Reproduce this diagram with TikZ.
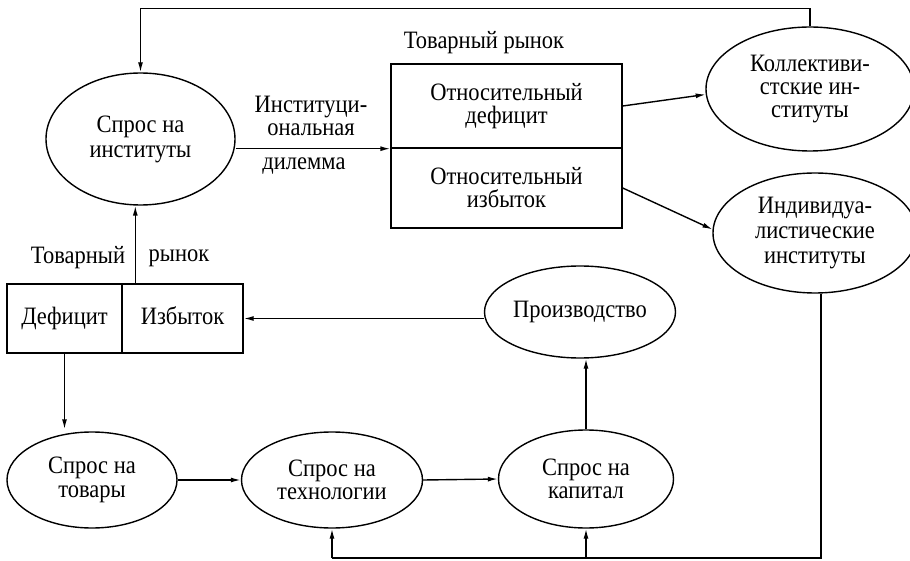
\documentclass[tikz,border=0pt]{standalone}
\usepackage{fontspec}
\setmainfont{Liberation Serif}[FakeStretch=0.9]
\usetikzlibrary{shapes.geometric,arrows.meta}
\tikzset{
  el/.style={draw, ellipse, line width=1.4pt, inner sep=0pt, align=center},
  bx/.style={draw, rectangle, line width=1.4pt, inner sep=0pt, align=center},
  lbl/.style={inner sep=0pt, align=center},
  arr/.style={line width=1.4pt, -{Latex[length=10pt,width=5pt]}},
  ln/.style={line width=1.4pt},
}
\begin{document}
\begin{tikzpicture}[x=1pt,y=-1pt,font=\fontsize{25}{25}\selectfont]
\useasboundingbox (0,0) rectangle (910,561);
% ellipses
\node[el, minimum width=189pt, minimum height=132pt] (inst) at (140.5,139) {Спрос на\\институты};
\node[el, minimum width=208pt, minimum height=124pt, font=\fontsize{25}{23}\selectfont] (coll) at (810,89) {Коллективи-\\стские ин-\\ституты};
\node[el, minimum width=204pt, minimum height=120pt] (indiv) at (815,233) {Индивидуа-\\листические\\институты};
\node[el, minimum width=191pt, minimum height=92pt] (prod) at (580,312) {Производство};
\node[el, minimum width=170pt, minimum height=96pt, font=\fontsize{25}{23.5}\selectfont] (goods) at (92,480) {Спрос на\\товары};
\node[el, minimum width=181pt, minimum height=96pt, font=\fontsize{25}{23.5}\selectfont] (tech) at (332,480) {Спрос на\\технологии};
\node[el, minimum width=175pt, minimum height=98pt, font=\fontsize{25}{23.5}\selectfont] (cap) at (586,479) {Спрос на\\капитал};
% market box (top)
\node[bx, minimum width=231pt, minimum height=84pt, font=\fontsize{25}{23}\selectfont] (rel1) at (506.5,106) {Относительный\\дефицит};
\node[bx, minimum width=231pt, minimum height=80pt, font=\fontsize{25}{23}\selectfont] (rel2) at (506.5,188) {Относительный\\избыток};
\node[lbl] (mk1) at (484,43) {Товарный рынок};
% market box (left)
\node[bx, minimum width=115pt, minimum height=69pt, text height=17pt, text depth=5pt] (def) at (64.5,318.5) {Дефицит};
\node[bx, minimum width=121pt, minimum height=69pt, text height=17pt, text depth=5pt] (izb) at (182.5,318.5) {Избыток};
\node[lbl] (mk2a) at (78,258) {Товарный};
\node[lbl] (mk2b) at (179,258) {рынок};
% dilemma labels
\node[lbl, font=\fontsize{25}{23}\selectfont] (dil1) at (311,116) {Институци-\\ональная};
\node[lbl] (dil2) at (304,166) {дилемма};
% helper coordinates
\coordinate (top) at (0,8.5);
\coordinate (bot) at (0,558);
% connectors
\draw[arr] (coll.north) -- (coll.north |- top) -| (inst.north);
\draw[arr] (inst.east |- rel1.south west) -- (rel1.south west);
\draw[arr] (rel1.east) -- (coll.183);
\draw[arr] (rel2.east) -- (indiv.178);
\draw[ln] ([xshift=6pt]indiv.south) -- ([xshift=6pt]indiv.south |- bot) -- (tech.south |- bot);
\draw[arr] (tech.south |- bot) -- (tech.south);
\draw[arr] (cap.south |- bot) -- (cap.south);
\draw[arr] (cap.north) -- (cap.north |- prod.south);
\draw[arr] (izb.east -| prod.west) -- (izb.east);
\draw[arr] ([xshift=14pt]izb.north west) -- ([xshift=14pt]izb.north west |- inst.south);
\draw[arr] (def.south) -- ([yshift=2pt]def.south |- goods.north);
\draw[arr] (goods.east) -- (tech.west);
\draw[arr] (tech.east) -- (cap.west);
\end{tikzpicture}
\end{document}
